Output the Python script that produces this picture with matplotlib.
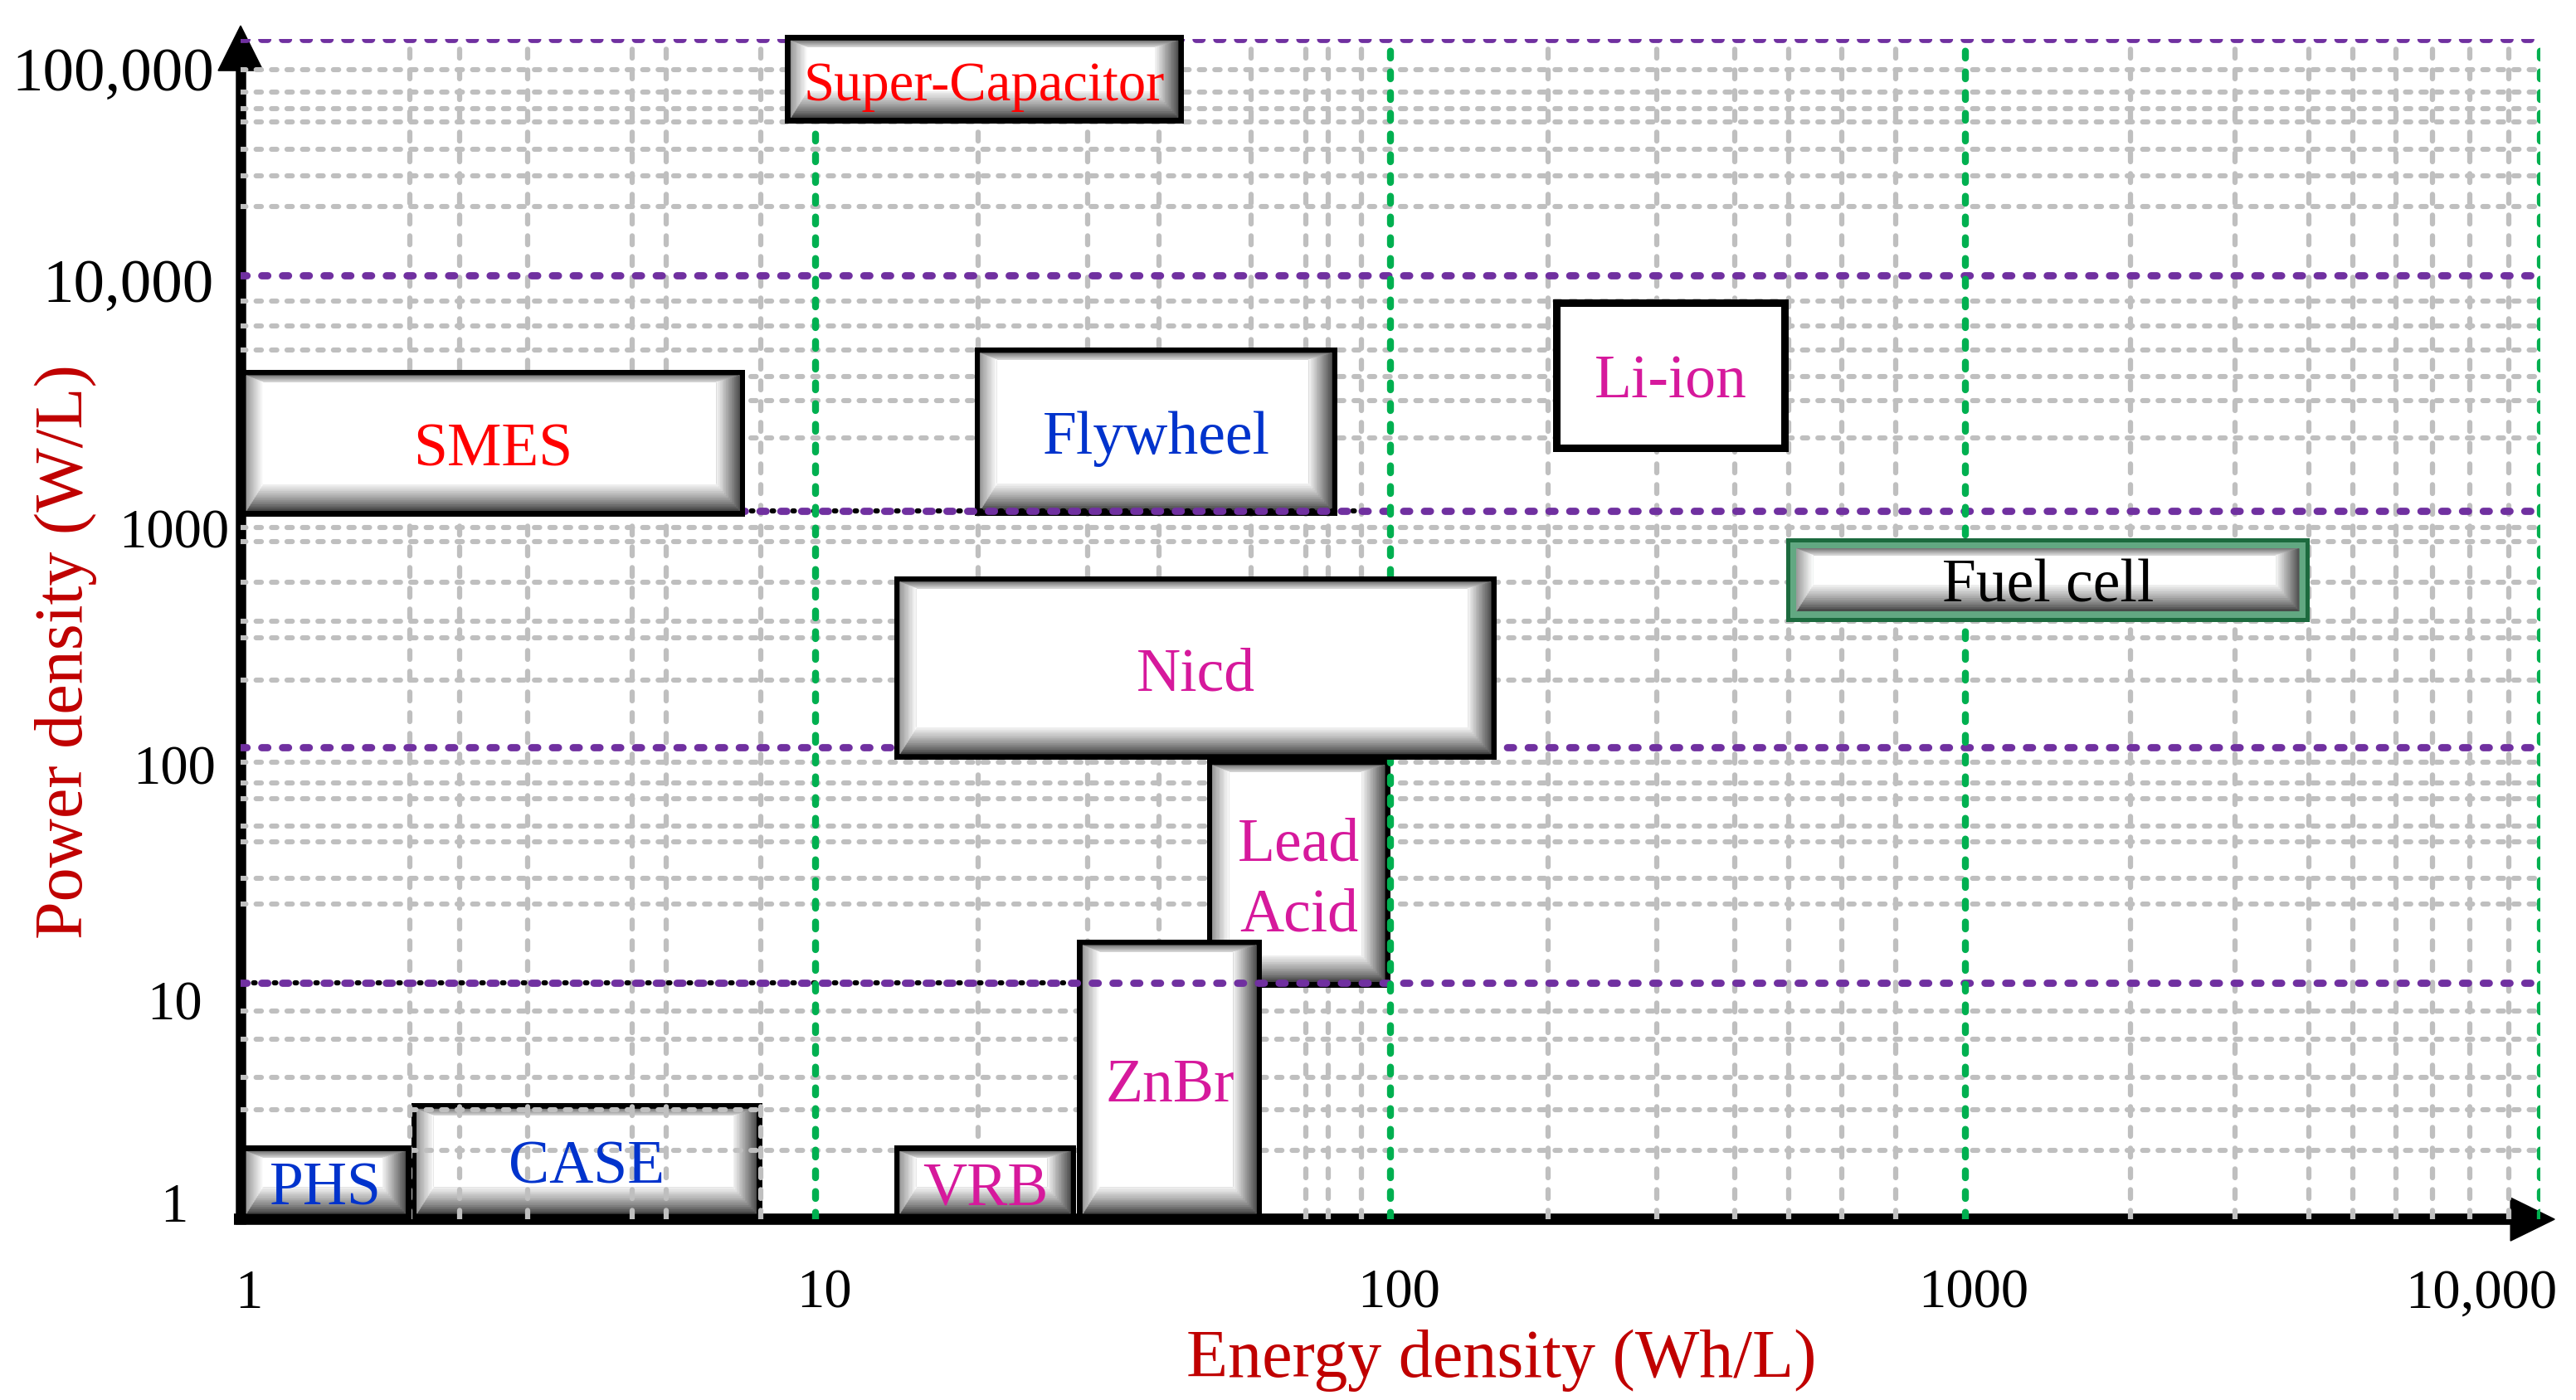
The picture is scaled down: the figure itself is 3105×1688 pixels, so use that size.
import numpy as np
import matplotlib.pyplot as plt
from matplotlib.patches import Polygon, Rectangle
from matplotlib.transforms import IdentityTransform, blended_transform_factory, offset_copy

plt.rcParams['font.family'] = ['Liberation Serif', 'DejaVu Serif']

# energy density (Wh/L) and power density (W/L) ranges of each storage technology
tech = ['PHS', 'CASE', 'SMES', 'Super-Capacitor', 'Flywheel', 'VRB',
        'Lead\nAcid', 'ZnBr', 'Nicd', 'Li-ion', 'Fuel cell']
energy_min = [1.0, 1.98, 1.0, 8.85, 18.9, 13.7, 47.9, 28.5, 13.7, 192, 487]
energy_max = [1.98, 8.07, 7.55, 43.7, 80.9, 28.4, 100, 59.8, 153, 492, 3970]
power_min = [1.0, 1.0, 950, 44000, 955, 1.0, 9.6, 1.0, 88.6, 1780, 340]
power_max = [2.05, 3.1, 3970, 104000, 4940, 2.05, 88.6, 15.3, 530, 7900, 770]

x_ticks = [1, 10, 100, 1000, 10000]
x_labels = ['1', '10', '100', '1000', '10,000']
y_ticks = [1, 10, 100, 1000, 10000, 100000]
y_labels = ['1', '10', '100', '1000', '10,000', '100,000']

# hand drawn grey grid lines of the original
x_grid = [1.97, 2.4, 3.16, 4.79, 5.5, 8.04,
          19.2, 29.7, 39.5, 57.2, 71.3, 77.9, 89,
          188, 290, 397, 493, 609, 755,
          1936, 2940, 3950, 4720, 5610, 6500, 7530, 8810]
y_grid = [1.96, 2.9, 4.0, 5.8, 7.6,
          21.7, 27.9, 39.7, 46.5, 60.4, 70.6, 86.7,
          192, 291, 343, 499, 741, 855,
          2040, 2930, 3730, 4800, 6100, 7780,
          19500, 26400, 34000, 44400, 50700, 59700, 74300]

blue, red, pink = '#0033CC', '#FF0000', '#D6199C'
text_color = {'PHS': blue, 'CASE': blue, 'Flywheel': blue, 'SMES': red,
              'Super-Capacitor': red, 'Fuel cell': 'black'}
box_z = {'CASE': 0.45, 'Flywheel': 2.5, 'Lead\nAcid': 2.5, 'ZnBr': 2.5}
# vertical nudge (pixels) of the hand placed y tick labels
y_label_dy = [14, -28, -28, -28, -14, -44]

fig = plt.figure(figsize=(31.05, 16.88), dpi=100)
ax = fig.add_axes([0.0934, 0.1291, 0.8928, 0.8430])
ax.set_xscale('log')
ax.set_yscale('log')
ax.set_xlim(1, 10000)
ax.set_ylim(1, 100000)
for s in ax.spines.values():
    s.set_visible(False)
ax.set_xticks(x_ticks)
ax.set_yticks(y_ticks)
ax.set_xticks(x_grid, minor=True)
ax.set_yticks(y_grid, minor=True)
ax.tick_params(which='both', length=0, labelbottom=False, labelleft=False)
ax.set_axisbelow(True)

# grey background grid
ax.grid(axis='y', which='minor', color='#BFBFBF', lw=4.4, ls=(0, (1.05, 2.0)), dash_capstyle='round')
ax.grid(axis='x', which='minor', color='#BFBFBF', lw=4.5, ls=(0, (1.7, 2.3)), dash_capstyle='round')

# decade guide lines (with the stray black dots peeking out under two of them)
for x_end, v in [(27, 10), (92, 1000)]:
    ax.plot([1, x_end], [v, v], color='black', lw=4.5, ls=(1.5, (0.3, 3.7)),
            dash_capstyle='round', zorder=2.9)
for v in y_ticks[1:]:
    ax.axhline(v, color='#7030A0', lw=6.3, ls=(0, (0.83, 2.03)), dash_capstyle='round', zorder=3)
for v in x_ticks[1:]:
    ax.axvline(v, color='#00B050', lw=6.0, ls=(0, (1.0, 2.0)), dash_capstyle='round', zorder=3)

# axis lines with arrow heads
ax.plot([0, 0], [-0.004, 1.0], color='black', lw=9, transform=ax.transAxes,
        clip_on=False, solid_capstyle='butt', zorder=0.4)
ax.plot([-0.003, 1.0], [0, 0], color='black', lw=9.8, transform=ax.transAxes,
        clip_on=False, solid_capstyle='butt', zorder=0.4)
tx, ty = ax.transAxes.transform((0, 1))
ax.add_patch(Polygon([(tx, ty + 16), (tx - 27, ty - 38), (tx + 27, ty - 38)],
                     closed=True, fc='black', ec='black', lw=1, transform=IdentityTransform(),
                     clip_on=False, zorder=0.4))
rx, ry = ax.transAxes.transform((1, 0))
ax.add_patch(Polygon([(rx + 17, ry), (rx - 36, ry + 26), (rx - 36, ry - 26)],
                     closed=True, fc='black', ec='black', lw=1, transform=IdentityTransform(),
                     clip_on=False, zorder=0.4))


def grey(a, b, t):
    v = a + (b - a) * t
    return (v, v, v)


def bevel_box(x0, x1, y0, y1, z, edge='black', border=7, inner=None, bevel=True):
    (px0, py0), (px1, py1) = ax.transData.transform([(x0, y0), (x1, y1)])
    tr = IdentityTransform()
    ax.add_patch(Rectangle((px0, py0), px1 - px0, py1 - py0, fc=edge, ec='none',
                           transform=tr, clip_on=False, zorder=z))
    b = border
    if inner is not None:
        ax.add_patch(Rectangle((px0 + 5, py0 + 5), px1 - px0 - 10, py1 - py0 - 10, fc=inner,
                               ec='none', transform=tr, clip_on=False, zorder=z))
    ix0, ix1, iy0, iy1 = px0 + b, px1 - b, py0 + b, py1 - b
    if not bevel:
        ax.add_patch(Rectangle((ix0, iy0), ix1 - ix0, iy1 - iy0, fc='white', ec='none',
                               transform=tr, clip_on=False, zorder=z))
        return
    t, l, r, bt = 8, 20, 28, 32
    n = 12
    for k in range(n):
        f0, f1 = k / n, (k + 1) / n
        fm = (k + 0.5) / n
        polys = [
            ([(ix0 + l * f0, iy1 - t * f0), (ix1 - r * f0, iy1 - t * f0),
              (ix1 - r * f1, iy1 - t * f1), (ix0 + l * f1, iy1 - t * f1)], grey(0.45, 0.85, fm)),
            ([(ix0 + l * f0, iy0 + bt * f0), (ix1 - r * f0, iy0 + bt * f0),
              (ix1 - r * f1, iy0 + bt * f1), (ix0 + l * f1, iy0 + bt * f1)],
             grey(0.22, 0.96, fm ** 0.8)),
            ([(ix0 + l * f0, iy0 + bt * f0), (ix0 + l * f0, iy1 - t * f0),
              (ix0 + l * f1, iy1 - t * f1), (ix0 + l * f1, iy0 + bt * f1)], grey(0.60, 1.0, fm)),
            ([(ix1 - r * f0, iy0 + bt * f0), (ix1 - r * f0, iy1 - t * f0),
              (ix1 - r * f1, iy1 - t * f1), (ix1 - r * f1, iy0 + bt * f1)], grey(0.30, 0.97, fm)),
        ]
        for pts, c in polys:
            ax.add_patch(Polygon(pts, closed=True, fc=c, ec=c, lw=0.6, transform=tr,
                                 clip_on=False, zorder=z))
    ax.add_patch(Rectangle((ix0 + l, iy0 + bt), ix1 - ix0 - l - r, iy1 - iy0 - t - bt,
                           fc='white', ec='none', transform=tr, clip_on=False, zorder=z))


label_tr = offset_copy(ax.transData, fig=fig, x=0, y=-9, units='dots')
for name, e0, e1, p0, p1 in zip(tech, energy_min, energy_max, power_min, power_max):
    z = box_z.get(name, 4)
    if name == 'Li-ion':
        bevel_box(e0, e1, p0, p1, z, border=9, bevel=False)
    elif name == 'Fuel cell':
        bevel_box(e0, e1, p0, p1, z, edge='#1C6A3E', border=13, inner='#62A882')
    else:
        bevel_box(e0, e1, p0, p1, z)
    size = 48 if name == 'Super-Capacitor' else 53
    ax.text(np.sqrt(e0 * e1), np.sqrt(p0 * p1), name, ha='center', va='center',
            transform=label_tr, fontsize=size, color=text_color.get(name, pink),
            linespacing=1.35, zorder=10)

# tick labels
ytr = blended_transform_factory(ax.transAxes, ax.transData)
for v, lab, dy in zip(y_ticks, y_labels, y_label_dy):
    if ',' in lab:
        tr = offset_copy(ytr, fig=fig, x=-32, y=dy, units='dots')
        ax.text(0, v, lab, transform=tr, ha='right', va='center', fontsize=54)
    else:
        tr = offset_copy(ytr, fig=fig, x=-80, y=dy, units='dots')
        ax.text(0, v, lab, transform=tr, ha='center', va='center', fontsize=48)

xtr = blended_transform_factory(ax.transData, ax.transAxes)
for v, lab in zip(x_ticks, x_labels):
    if ',' in lab:
        tr = offset_copy(xtr, fig=fig, x=20, y=-90, units='dots')
        ax.text(v, 0, lab, transform=tr, ha='right', va='center', fontsize=48)
    else:
        tr = offset_copy(xtr, fig=fig, x=10, y=-90, units='dots')
        ax.text(v, 0, lab, transform=tr, ha='center', va='center', fontsize=48)

fig.text(0.583, 0.0166, 'Energy density (Wh/L)', ha='center', va='baseline',
         fontsize=59, color='#C00000')
fig.text(0.0319, 0.5344, 'Power density (W/L)', rotation=90, rotation_mode='anchor',
         ha='center', va='baseline', fontsize=59, color='#C00000')

fig.savefig('out.png', dpi=100)
